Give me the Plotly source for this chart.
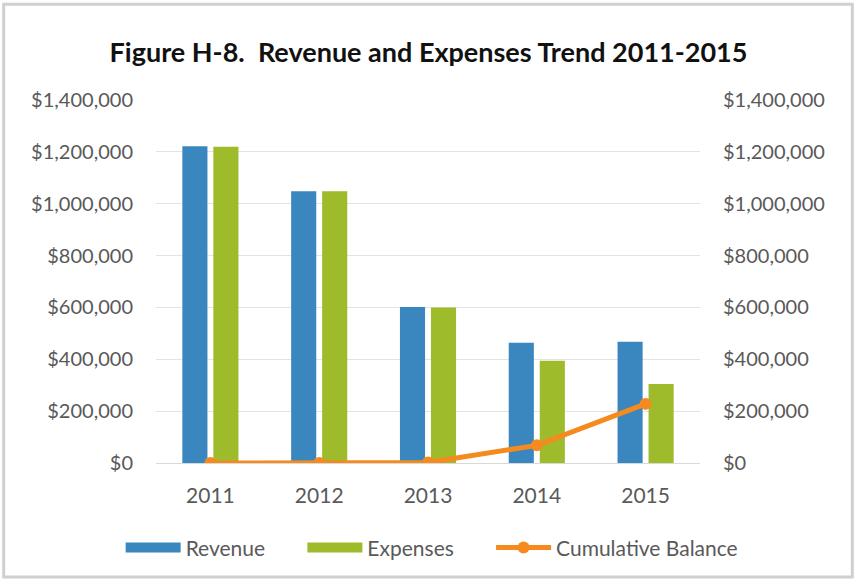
import plotly.graph_objects as go

years = ["2011", "2012", "2013", "2014", "2015"]
revenue = [1222000, 1048000, 602000, 464000, 468000]
expenses = [1220000, 1048000, 600000, 394000, 305000]
cumulative_balance = [0, 0, 2000, 68000, 228000]

tick_vals = [0, 200000, 400000, 600000, 800000, 1000000, 1200000, 1400000]
tick_text = ["$0", "$200,000", "$400,000", "$600,000", "$800,000",
             "$1,000,000", "$1,200,000", "$1,400,000"]

font_family = "Lato, 'Open Sans', sans-serif"
label_color = "#595959"
rev_color = "#3A86BE"
exp_color = "#9DBB2A"
bal_color = "#F58A1F"

# non-breaking spaces widen the gap between legend entries
pad = "\u00a0" * 6

fig = go.Figure()
fig.add_trace(go.Bar(x=years, y=revenue, name="Revenue", showlegend=False,
                     marker=dict(color=rev_color, line=dict(width=0))))
fig.add_trace(go.Bar(x=years, y=expenses, name="Expenses", showlegend=False,
                     marker=dict(color=exp_color, line=dict(width=0))))
fig.add_trace(go.Scatter(x=years, y=cumulative_balance, name="Cumulative Balance",
                         mode="lines+markers", yaxis="y2", showlegend=False,
                         line=dict(color=bal_color, width=5),
                         marker=dict(color=bal_color, size=12, symbol="circle")))

# legend entries with wide swatches
fig.add_trace(go.Scatter(x=[None], y=[None], name="Revenue" + pad, mode="lines",
                         line=dict(color=rev_color, width=11)))
fig.add_trace(go.Scatter(x=[None], y=[None], name="Expenses" + pad, mode="lines",
                         line=dict(color=exp_color, width=11)))
fig.add_trace(go.Scatter(x=[None], y=[None], name="Cumulative Balance",
                         mode="lines+markers",
                         line=dict(color=bal_color, width=5),
                         marker=dict(color=bal_color, size=12, symbol="circle")))

fig.update_layout(
    width=857, height=581,
    paper_bgcolor="white", plot_bgcolor="white",
    margin=dict(l=156, r=157, t=100, b=118, autoexpand=False),
    barmode="group", bargap=0.43, bargroupgap=0.19,
    title=dict(text="<b>Figure H-8.  Revenue and Expenses Trend 2011-2015</b>",
               x=0.5, xanchor="center", y=0.91, yanchor="middle",
               font=dict(family=font_family, size=27, color="#111111")),
    font=dict(family=font_family, size=20, color=label_color),
    xaxis=dict(showgrid=False, showline=True, linecolor="#d9d9d9", linewidth=1,
               ticks="", ticklabelstandoff=14,
               tickfont=dict(size=21, color=label_color)),
    yaxis=dict(range=[0, 1400000], tickvals=tick_vals, ticktext=tick_text,
               showgrid=True, gridcolor="#e3e3e3", gridwidth=1, zeroline=False,
               ticks="", ticklabelstandoff=22,
               tickfont=dict(size=20, color=label_color)),
    yaxis2=dict(range=[0, 1400000], tickvals=tick_vals, ticktext=tick_text,
                overlaying="y", side="right", showgrid=False, zeroline=False,
                ticks="", ticklabelstandoff=22,
                tickfont=dict(size=20, color=label_color)),
    legend=dict(orientation="h", x=-0.065, xanchor="left", y=-0.234, yanchor="middle",
                font=dict(size=21, color=label_color), itemwidth=55,
                traceorder="normal"),
)

# light frame around the whole chart
fig.add_shape(type="rect", xref="paper", yref="paper",
              x0=-0.28, x1=1.28, y0=-0.314, y1=1.264,
              line=dict(color="#d0d0d0", width=3), fillcolor="rgba(0,0,0,0)")

fig.write_html("out.html")
